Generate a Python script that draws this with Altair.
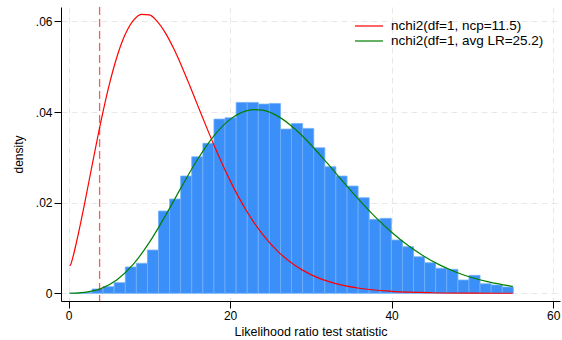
import altair as alt
import pandas as pd

# ---- data ----
bin_edges = [0.15, 1.52, 2.90, 4.27, 5.64, 7.02, 8.39, 9.76, 11.13, 12.51,
             13.88, 15.25, 16.63, 18.00, 19.37, 20.75, 22.12, 23.49, 24.86, 26.24,
             27.61, 28.98, 30.36, 31.73, 33.10, 34.48, 35.85, 37.22, 38.59, 39.97,
             41.34, 42.71, 44.09, 45.46, 46.83, 48.21, 49.58, 50.95, 52.32, 53.70,
             55.07]
bar_density = [0.0, 0.0002, 0.00095, 0.00146, 0.00234, 0.0058, 0.00662, 0.00955, 0.01816, 0.0208,
               0.02588, 0.03013, 0.0331, 0.03845, 0.03874, 0.04214, 0.04214, 0.04176, 0.04191, 0.03625,
               0.0375, 0.0364, 0.03212, 0.02793, 0.02588, 0.02367, 0.02109, 0.01632, 0.01655, 0.01176,
               0.01028, 0.00807, 0.00675, 0.00552, 0.00529, 0.00293, 0.00397, 0.0021, 0.00183, 0.00139]

red_x = [0.12, 0.25, 0.5, 1, 1.5, 2, 3, 4, 5, 6, 7, 8, 9, 10, 11, 12, 13, 14, 15, 16,
         17, 18, 19, 20, 22, 24, 26, 28, 30, 33, 36, 40, 45, 50, 55]
red_y = [0.00612, 0.00631, 0.00775, 0.01145, 0.01558, 0.01998, 0.02908, 0.03790, 0.04578, 0.05227,
         0.05711, 0.06020, 0.06159, 0.06145, 0.05998, 0.05743, 0.05407, 0.05014, 0.04586, 0.04143,
         0.03701, 0.03272, 0.02865, 0.02487, 0.01829, 0.01307, 0.00910, 0.00620, 0.00413, 0.00218,
         0.00111, 0.00043, 0.00012, 0.00003, 0.00001]

green_x = [0.12, 1, 2, 3, 4, 6, 8, 10, 12, 14, 16, 18, 20, 22, 23, 24, 26, 28, 30, 32,
           34, 36, 38, 40, 42, 44, 46, 48, 50, 52, 55]
green_y = [0.00001, 0.00006, 0.00021, 0.00052, 0.00104, 0.00299, 0.00639, 0.01123, 0.01717, 0.02355,
           0.02964, 0.03476, 0.03839, 0.04028, 0.04056, 0.04042, 0.03900, 0.03633, 0.03280, 0.02879,
           0.02462, 0.02057, 0.01681, 0.01347, 0.01059, 0.00819, 0.00622, 0.00466, 0.00344, 0.00251,
           0.00152]

crit_value = [3.84]
x_ticks = [0, 20, 40, 60]
y_ticks = [0, 0.02, 0.04, 0.06]
series_names = ["nchi2(df=1, ncp=11.5)", "nchi2(df=1, avg LR=25.2)"]
series_colors = ["#ff0000", "#008000"]

# ---- tables ----
hist = pd.DataFrame({"lo": bin_edges[:-1], "hi": bin_edges[1:], "density": bar_density})
curves = pd.concat([
    pd.DataFrame({"x": red_x, "y": red_y, "series": series_names[0], "order": range(len(red_x))}),
    pd.DataFrame({"x": green_x, "y": green_y, "series": series_names[1], "order": range(len(green_x))}),
])
crit = pd.DataFrame({"x": crit_value})

FONT = "Liberation Sans"
xs = alt.Scale(domain=[-0.94, 60.85], nice=False, zero=False)
ys = alt.Scale(domain=[-0.0017, 0.0632], nice=False, zero=False)

grid_style = dict(grid=True, gridColor="#e8e8e8", gridDash=[6, 4], gridWidth=1)
x_axis = alt.Axis(values=x_ticks, title="Likelihood ratio test statistic", format="d",
                  tickSize=7, tickColor="black", domainColor="black", labelColor="black",
                  labelFont=FONT, labelFontSize=12, labelPadding=2,
                  titleFont=FONT, titleFontSize=12.5, titleFontWeight="normal", titleColor="black",
                  titlePadding=4, **grid_style)
y_axis = alt.Axis(values=y_ticks, title="density",
                  labelExpr="datum.value == 0 ? '0' : replace(format(datum.value, '.2f'), '0.', '.')",
                  tickSize=7, tickColor="black", domainColor="black", labelColor="black",
                  labelFont=FONT, labelFontSize=12, labelPadding=2,
                  titleFont=FONT, titleFontSize=12, titleFontWeight="normal", titleColor="black",
                  titlePadding=10, **grid_style)

bars = alt.Chart(hist).mark_rect(color="#3a8ff8", stroke="#72b0fa", strokeWidth=0.8).encode(
    x=alt.X("lo:Q", scale=xs, axis=x_axis),
    x2="hi:Q",
    y=alt.Y("density:Q", scale=ys, axis=y_axis),
    y2=alt.datum(0),
)

lines = alt.Chart(curves).mark_line(strokeWidth=1.2, interpolate="monotone").encode(
    x=alt.X("x:Q", scale=xs),
    y=alt.Y("y:Q", scale=ys),
    color=alt.Color("series:N",
                    scale=alt.Scale(domain=series_names, range=series_colors),
                    legend=alt.Legend(orient="none", legendX=300, legendY=11, title=None,
                                      symbolType="M-2,0L2,0", symbolSize=196, symbolStrokeWidth=2,
                                      symbolOpacity=0.6,
                                      labelFont=FONT, labelFontSize=13.5, labelColor="black",
                                      labelLimit=400, labelOffset=14, rowPadding=0)),
    order="order:Q",
)

rule = alt.Chart(crit).mark_rule(color="#ff0000", opacity=0.65, strokeDash=[8, 4], strokeWidth=1.3).encode(
    x=alt.X("x:Q", scale=xs),
)

chart = alt.layer(bars, lines, rule).properties(
    width=499, height=294,
    autosize=alt.AutoSizeParams(type="none"),
    padding={"left": 61, "top": 7, "right": 2, "bottom": 39},
    background="white",
).configure_view(stroke=None)

chart.save("out.html", embed_options={"renderer": "svg", "actions": False})
